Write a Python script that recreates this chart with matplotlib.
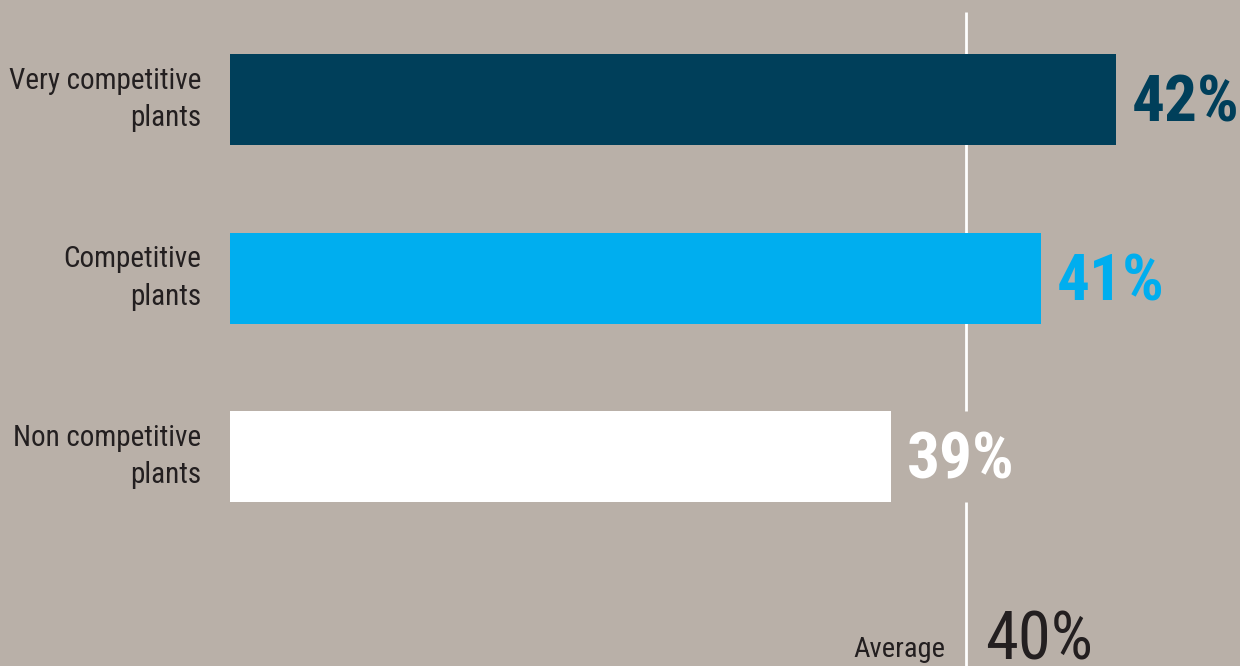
import matplotlib.pyplot as plt

categories = ['Very competitive\nplants', 'Competitive\nplants', 'Non competitive\nplants']
values = [42, 41, 39]
labels = ['42%', '41%', '39%']
average = 40
average_label = '40%'

bg = '#b9b0a8'
colors = ['#003f5a', '#00aeef', '#ffffff']
txt_colors = ['#003f5a', '#00aeef', '#ffffff']

plt.rcParams['font.family'] = ['Roboto Condensed', 'Liberation Sans Narrow', 'Roboto', 'DejaVu Sans']

fig = plt.figure(figsize=(12.4, 6.66), dpi=100)
fig.patch.set_facecolor(bg)
ax = fig.add_axes([0, 0, 1, 1])
ax.set_facecolor(bg)

# pixel mapping: 75 px per percentage point, bars start at x=230
px = 75.0
base = average - (966 - 230) / px
ax.set_xlim(average - 966 / px, average + (1240 - 966) / px)
step = 178.5
ax.set_ylim((666 - 99.5) / step, -99.5 / step)

h = 91 / step
ax.barh(range(len(values)), [v - base for v in values], left=base,
        height=h, color=colors, zorder=2)

# average line, broken around the last label
def py(p):
    return (p - 99.5) / step

ax.plot([average, average], [py(12), 2 - h / 2], color='white', lw=2, zorder=1,
        solid_capstyle='butt')
ax.plot([average, average], [2 + h / 2, py(666)], color='white', lw=2, zorder=1,
        solid_capstyle='butt')

for i, (cat, v, lab) in enumerate(zip(categories, values, labels)):
    ax.text(base - 29 / px, i, cat, ha='right', va='center', fontsize=21,
            color='#231f20', linespacing=1.45)
    ax.text(v + 16 / px, i + 22 / step, lab, ha='left', va='baseline',
            fontsize=47, fontweight='bold', color=txt_colors[i])

ax.text(average - 21 / px, py(657), 'Average', ha='right', va='baseline',
        fontsize=20.5, color='#231f20')
ax.text(average + 19 / px, py(659), average_label, ha='left', va='baseline',
        fontsize=48, color='#231f20')

ax.axis('off')
fig.savefig('out.png', dpi=100, facecolor=bg)
